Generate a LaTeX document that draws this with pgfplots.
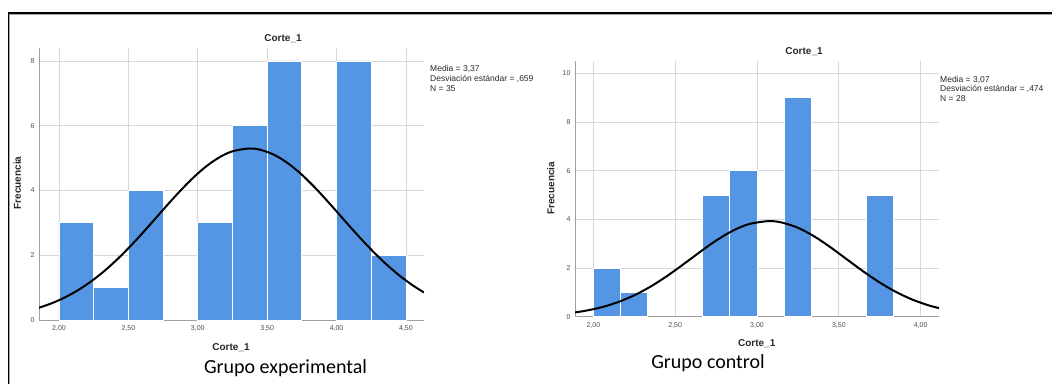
\documentclass[border=0pt]{standalone}
\usepackage{pgfplots}
\pgfplotsset{compat=1.18}
\usepackage{fontspec}
\setmainfont{Liberation Sans}
\newfontfamily\calibri{Carlito}
\definecolor{barblue}{RGB}{84,150,227}
\definecolor{gridc}{RGB}{215,215,215}
\definecolor{axc}{RGB}{160,160,160}
\definecolor{txt}{RGB}{40,40,40}
\pgfplotsset{spss/.style={
  scale only axis,
  axis x line=bottom, axis y line=left,
  axis line style={axc,-,line width=0.9pt},
  grid=major, grid style={gridc,line width=0.9pt},
  major tick length=0pt,
  tick label style={font=\fontsize{7}{8}\selectfont, text=black!70},
  /pgf/number format/assume math mode=true,
  xtick pos=bottom, ytick pos=left,
  ymin=0,
  xticklabel style={yshift=-2pt},
  yticklabel style={xshift=-1pt},
}}
\begin{document}
\begin{tikzpicture}[x=1pt,y=1pt]
\useasboundingbox (0,0) rectangle (1052,383);
\clip (0,0) rectangle (1052,383);
% frame
\draw[black!35,line width=0.6pt] (9.3,-10) -- (9.3,383-14.2) -- (1060,383-14.2);
\draw[black,line width=1.4pt] (8.3,-10) -- (8.3,383-13) -- (1060,383-13);
% left chart
\begin{axis}[spss,
  at={(39pt,63pt)}, anchor=south west,
  width=385pt, height=272pt,
  xmin=1.856, xmax=4.63, ymax=8.4,
  xtick={2,2.5,3,3.5,4,4.5},
  xticklabels={2{,}00,2{,}50,3{,}00,3{,}50,4{,}00,4{,}50},
  ytick={0,2,4,6,8},
  yticklabels={0,2,4,6,8},
]
\addplot[ybar, bar width=0.25, bar shift=0pt, fill=barblue, draw=white, line width=0.9pt]
  coordinates {(2.125,3) (2.375,1) (2.625,4) (3.125,3) (3.375,6) (3.625,8) (4.125,8) (4.375,2)};
\addplot[black, line width=2pt, smooth] coordinates {
(1.856,0.378) (1.95,0.520) (2.05,0.713) (2.15,0.955) (2.25,1.250) (2.35,1.599)
(2.45,1.999) (2.55,2.442) (2.65,2.916) (2.75,3.403) (2.85,3.880) (2.95,4.323)
(3.05,4.708) (3.15,5.010) (3.25,5.210) (3.37,5.297) (3.45,5.258) (3.55,5.103)
(3.65,4.840) (3.75,4.486) (3.85,4.063) (3.95,3.596) (4.05,3.110) (4.15,2.629)
(4.25,2.172) (4.35,1.753) (4.45,1.383) (4.55,1.066) (4.63,0.851)};
\end{axis}
% right chart
\begin{axis}[spss,
  at={(575pt,66.3pt)}, anchor=south west,
  width=364pt, height=256pt,
  xmin=1.888, xmax=4.112, ymax=10.52,
  xtick={2,2.5,3,3.5,4},
  xticklabels={2{,}00,2{,}50,3{,}00,3{,}50,4{,}00},
  ytick={0,2,4,6,8,10},
  yticklabels={0,2,4,6,8,10},
]
\addplot[ybar, bar width=0.16667, bar shift=0pt, fill=barblue, draw=white, line width=0.9pt]
  coordinates {(2.08333,2) (2.25,1) (2.75,5) (2.91667,6) (3.25,9) (3.75,5)};
\addplot[black, line width=2pt, smooth] coordinates {
(1.888,0.177) (1.95,0.241) (2.05,0.388) (2.15,0.597) (2.25,0.880) (2.35,1.239)
(2.45,1.670) (2.55,2.152) (2.65,2.653) (2.75,3.128) (2.85,3.527) (2.95,3.804)
(3.07,3.928) (3.15,3.872) (3.25,3.655) (3.35,3.299) (3.45,2.849) (3.55,2.352)
(3.65,1.858) (3.75,1.404) (3.85,1.014) (3.95,0.701) (4.05,0.463) (4.112,0.354)};
\end{axis}
% texts
\node[font=\fontsize{10}{12}\selectfont\bfseries, text=txt] at (283,383-39) {Corte\_1};
\node[font=\fontsize{10}{12}\selectfont\bfseries, text=txt] at (804,383-51.7) {Corte\_1};
\node[font=\fontsize{10}{12}\selectfont\bfseries, text=txt] at (231,383-347.7) {Corte\_1};
\node[font=\fontsize{10}{12}\selectfont\bfseries, text=txt] at (756.7,383-343.3) {Corte\_1};
\node[font=\fontsize{10}{12}\selectfont\bfseries, text=txt, rotate=90] at (17.3,383-183) {Frecuencia};
\node[font=\fontsize{10}{12}\selectfont\bfseries, text=txt, rotate=90] at (550.7,383-188.3) {Frecuencia};
\node[font=\fontsize{8.5}{9.6}\selectfont, text=txt, align=left, anchor=north west, inner sep=0pt] at (430,383-65.5) {Media = 3,37\\Desviación estándar = ,659\\N = 35};
\node[font=\fontsize{8.5}{9.6}\selectfont, text=txt, align=left, anchor=north west, inner sep=0pt] at (940,383-76) {Media = 3,07\\Desviación estándar = ,474\\N = 28};
\node[font=\calibri\fontsize{20}{24}\selectfont] at (285.5,383-368.3) {Grupo experimental};
\node[font=\calibri\fontsize{20}{24}\selectfont] at (708,383-363.3) {Grupo control};
\end{tikzpicture}
\end{document}
